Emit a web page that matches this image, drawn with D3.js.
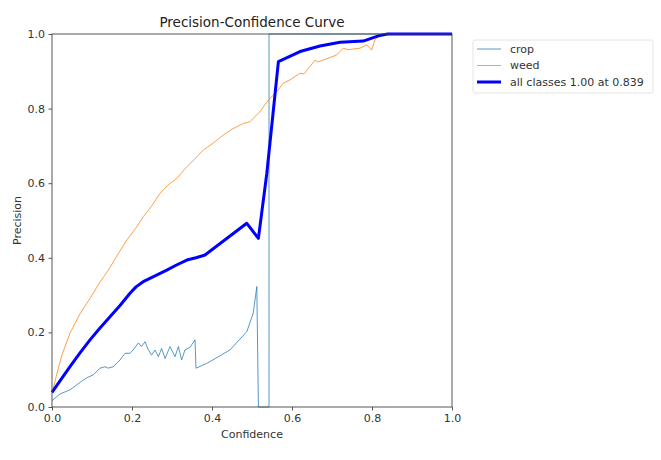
<!DOCTYPE html>
<html>
<head>
<meta charset="utf-8">
<script src="https://cdn.jsdelivr.net/npm/d3@7"></script>
<style>
  body { margin: 0; background: #fff; }
  svg { font-family: "DejaVu Sans", sans-serif; }
</style>
</head>
<body>
<svg id="chart"></svg>
<script>
// values
const cropConf = [0, 0.02, 0.045, 0.078, 0.09, 0.103, 0.12, 0.1325, 0.14, 0.153, 0.17, 0.1825, 0.195, 0.203, 0.216, 0.224, 0.2325, 0.241, 0.249, 0.2575, 0.266, 0.274, 0.2825, 0.295, 0.3075, 0.316, 0.324, 0.3325, 0.345, 0.3575, 0.36, 0.387, 0.445, 0.487, 0.503, 0.512, 0.516, 0.5425, 0.5425, 1];
const cropPrec = [0.017, 0.035, 0.046, 0.072, 0.08, 0.086, 0.104, 0.108, 0.104, 0.108, 0.126, 0.144, 0.144, 0.153, 0.172, 0.162, 0.175, 0.153, 0.139, 0.153, 0.135, 0.157, 0.13, 0.162, 0.135, 0.162, 0.126, 0.153, 0.16, 0.18, 0.104, 0.117, 0.153, 0.202, 0.251, 0.323, 0, 0, 1, 1];

const weedConf = [0, 0.01, 0.025, 0.045, 0.07, 0.095, 0.12, 0.141, 0.165, 0.187, 0.21, 0.228, 0.25, 0.27, 0.29, 0.312, 0.337, 0.36, 0.378, 0.4, 0.428, 0.45, 0.478, 0.495, 0.52, 0.541, 0.562, 0.578, 0.595, 0.62, 0.63, 0.6575, 0.665, 0.69, 0.712, 0.728, 0.74, 0.77, 0.787, 0.799, 0.8075, 0.812, 0.825, 1];
const weedPrec = [0.037, 0.08, 0.14, 0.198, 0.25, 0.291, 0.335, 0.367, 0.41, 0.448, 0.48, 0.51, 0.54, 0.573, 0.595, 0.613, 0.644, 0.668, 0.689, 0.705, 0.729, 0.745, 0.76, 0.765, 0.792, 0.823, 0.845, 0.868, 0.877, 0.895, 0.893, 0.93, 0.925, 0.935, 0.944, 0.962, 0.958, 0.962, 0.971, 0.957, 0.984, 0.989, 1, 1];

const allConf = [0, 0.02, 0.045, 0.07, 0.095, 0.12, 0.145, 0.17, 0.195, 0.21, 0.228, 0.255, 0.287, 0.31, 0.337, 0.36, 0.3825, 0.487, 0.516, 0.537, 0.566, 0.62, 0.67, 0.72, 0.778, 0.816, 0.839, 1];
const allPrec = [0.039, 0.07, 0.108, 0.145, 0.18, 0.212, 0.242, 0.272, 0.305, 0.322, 0.336, 0.35, 0.367, 0.38, 0.394, 0.4, 0.4075, 0.4925, 0.452, 0.626, 0.926, 0.953, 0.968, 0.978, 0.981, 0.995, 1, 1];

const xTicks = [0, 0.2, 0.4, 0.6, 0.8, 1.0];
const yTicks = [0, 0.2, 0.4, 0.6, 0.8, 1.0];

const series = [
    { name: 'crop', conf: cropConf, prec: cropPrec, color: '#1f77b4', width: 1, opacity: 0.75 },
    { name: 'weed', conf: weedConf, prec: weedPrec, color: '#ff7f0e', width: 1, opacity: 0.75 },
    { name: 'all classes 1.00 at 0.839', conf: allConf, prec: allPrec, color: 'blue', width: 3, opacity: 1 }
];

const width = 661, height = 460;
const margin = { top: 34, right: 209, bottom: 53, left: 52 };
const inner_width = width - margin.left - margin.right;
const inner_height = height - margin.top - margin.bottom;

const svg = d3.select('#chart')
    .attr('width', width)
    .attr('height', height);

const chart = svg.append('g')
    .attr('transform', `translate(${margin.left}, ${margin.top})`);

const xscale = d3.scaleLinear().domain([0, 1]).range([0, inner_width]);
const yscale = d3.scaleLinear().domain([0, 1]).range([inner_height, 0]);

chart.append('defs').append('clipPath')
    .attr('id', 'clip')
    .append('rect')
    .attr('x', -2).attr('y', -2)
    .attr('width', inner_width + 4)
    .attr('height', inner_height + 4);

const line = d3.line()
    .x(d => xscale(d[0]))
    .y(d => yscale(d[1]));

const lines = chart.append('g').attr('clip-path', 'url(#clip)');
series.forEach(s => {
    lines.append('path')
        .datum(s.conf.map((c, i) => [c, s.prec[i]]))
        .attr('fill', 'none')
        .attr('stroke', s.color)
        .attr('stroke-width', s.width)
        .attr('stroke-opacity', s.opacity)
        .attr('stroke-linejoin', 'round')
        .attr('d', line);
});

// frame
chart.append('rect')
    .attr('width', inner_width)
    .attr('height', inner_height)
    .attr('fill', 'none')
    .attr('stroke', '#444')
    .attr('stroke-width', 0.9);

const xaxis = d3.axisBottom(xscale)
    .tickValues(xTicks)
    .tickFormat(d3.format('.1f'))
    .tickSize(3.5)
    .tickPadding(3.5)
    .tickSizeOuter(0);

const yaxis = d3.axisLeft(yscale)
    .tickValues(yTicks)
    .tickFormat(d3.format('.1f'))
    .tickSize(3.5)
    .tickPadding(3.5)
    .tickSizeOuter(0);

const xg = chart.append('g')
    .attr('transform', `translate(0, ${inner_height})`)
    .call(xaxis);
const yg = chart.append('g').call(yaxis);

[xg, yg].forEach(g => {
    g.select('.domain').remove();
    g.selectAll('.tick line').attr('stroke', '#444').attr('stroke-width', 0.9);
    g.selectAll('.tick text')
        .attr('fill', '#333')
        .style('font-size', '11px')
        .style('font-family', '"DejaVu Sans", sans-serif');
});

svg.append('text')
    .attr('x', margin.left + inner_width / 2)
    .attr('y', 27)
    .attr('text-anchor', 'middle')
    .attr('fill', '#222')
    .style('font-size', '13.5px')
    .text('Precision-Confidence Curve');

svg.append('text')
    .attr('x', margin.left + inner_width / 2)
    .attr('y', 438)
    .attr('text-anchor', 'middle')
    .attr('fill', '#333')
    .style('font-size', '11px')
    .text('Confidence');

svg.append('text')
    .attr('transform', `translate(21, ${margin.top + inner_height / 2}) rotate(-90)`)
    .attr('text-anchor', 'middle')
    .attr('fill', '#333')
    .style('font-size', '11px')
    .text('Precision');

// legend
const legend = svg.append('g').attr('transform', 'translate(473, 40)');
legend.append('rect')
    .attr('width', 180)
    .attr('height', 53)
    .attr('rx', 2)
    .attr('fill', '#fff')
    .attr('stroke', '#ddd')
    .attr('stroke-width', 0.8);

series.forEach((s, i) => {
    const y = 9 + i * 16.5;
    legend.append('line')
        .attr('x1', 4).attr('x2', 28)
        .attr('y1', y).attr('y2', y)
        .attr('stroke', s.color)
        .attr('stroke-width', s.width)
        .attr('stroke-opacity', s.opacity);
    legend.append('text')
        .attr('x', 37)
        .attr('y', y)
        .attr('dy', '0.35em')
        .attr('fill', '#333')
        .style('font-size', '11px')
        .text(s.name);
});
</script>
</body>
</html>
